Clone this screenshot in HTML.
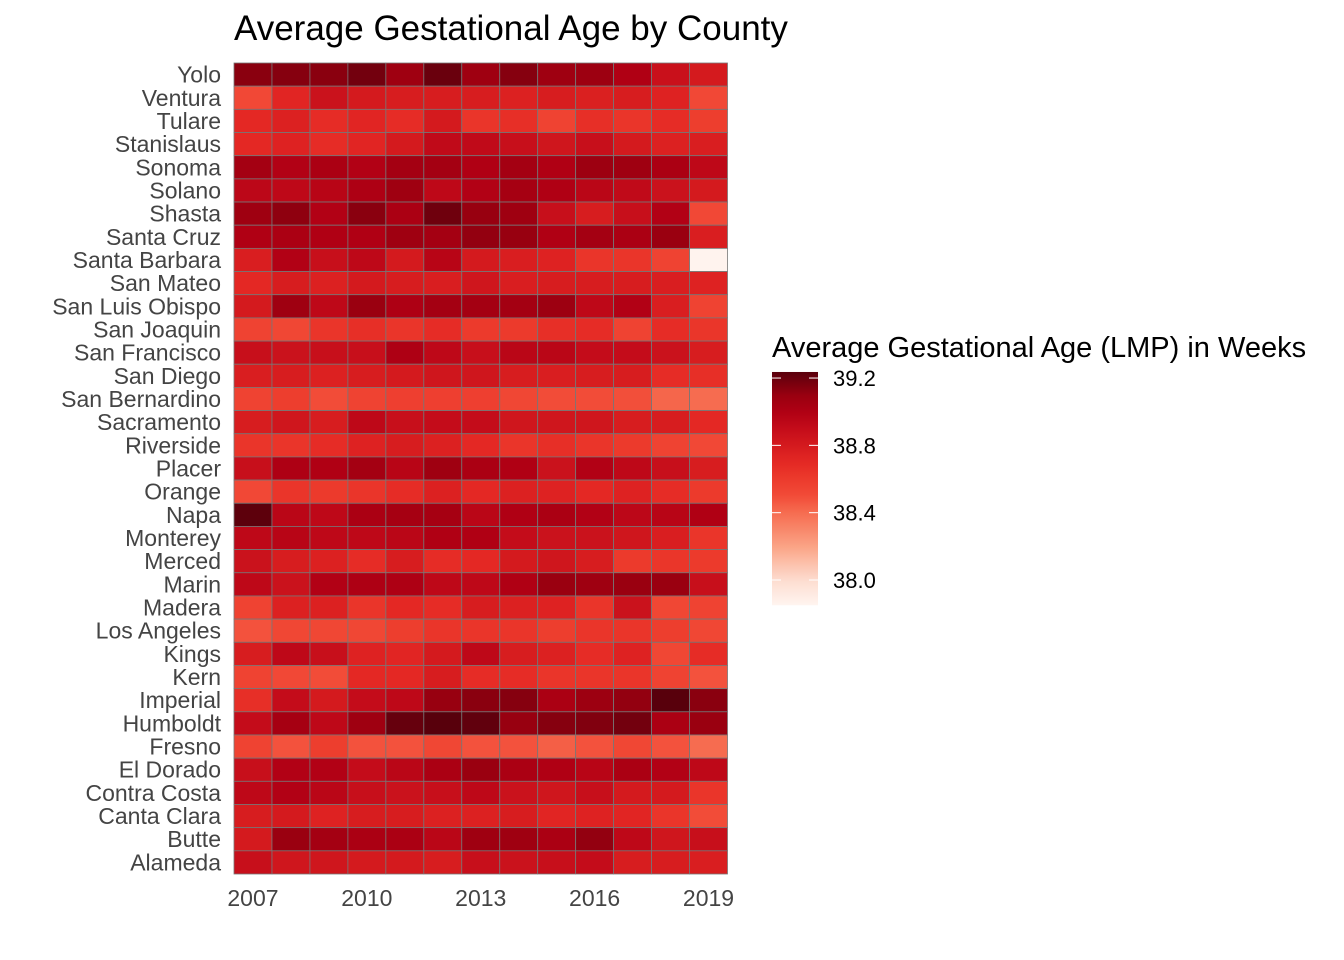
<!DOCTYPE html>
<html><head><meta charset="utf-8"><style>
html,body{margin:0;padding:0;background:#fff;}
svg{display:block;font-family:"Liberation Sans",Arial,sans-serif;}
</style></head><body>
<svg id="chart" width="1344" height="960">
<text x="234" y="40" font-size="35" fill="#000">Average Gestational Age by County</text>
<g id="cells"></g>
<g id="ylabels"></g>
<g id="xlabels"></g>
<g id="legend">
<text x="772" y="357" font-size="29" fill="#000">Average Gestational Age (LMP) in Weeks</text>
</g>
</svg>
<script>
const years = [2007,2008,2009,2010,2011,2012,2013,2014,2015,2016,2017,2018,2019];
const yearTicks = [2007,2010,2013,2016,2019];
const counties = ["Yolo","Ventura","Tulare","Stanislaus","Sonoma","Solano","Shasta","Santa Cruz","Santa Barbara","San Mateo","San Luis Obispo","San Joaquin","San Francisco","San Diego","San Bernardino","Sacramento","Riverside","Placer","Orange","Napa","Monterey","Merced","Marin","Madera","Los Angeles","Kings","Kern","Imperial","Humboldt","Fresno","El Dorado","Contra Costa","Canta Clara","Butte","Alameda"];
const legendTicks = [38.0,38.4,38.8,39.2];
const vYolo=[39.13,39.14,39.13,39.18,39.07,39.2,39.07,39.14,39.07,39.08,39.0,38.87,38.8];
const vVentura=[38.52,38.72,38.86,38.8,38.78,38.78,38.78,38.75,38.78,38.76,38.78,38.74,38.52];
const vTulare=[38.7,38.75,38.68,38.72,38.68,38.8,38.63,38.66,38.55,38.66,38.63,38.68,38.58];
const vStanislaus=[38.7,38.74,38.68,38.72,38.8,38.92,38.92,38.88,38.83,38.88,38.8,38.75,38.77];
const vSonoma=[39.05,38.99,39.02,38.99,39.05,39.05,39.0,39.05,39.0,39.08,39.07,39.02,38.93];
const vSolano=[38.94,38.93,38.96,39.01,39.07,38.93,38.99,39.04,39.0,38.95,38.92,38.86,38.8];
const vShasta=[39.07,39.12,38.99,39.13,39.02,39.19,39.1,39.07,38.88,38.78,38.88,38.99,38.52];
const vSantaCruz=[39.0,39.02,39.0,39.0,39.07,39.05,39.11,39.1,39.0,39.05,39.02,39.09,38.77];
const vSantaBarbara=[38.77,38.99,38.88,38.93,38.8,38.96,38.8,38.77,38.74,38.63,38.63,38.55,37.86];
const vSanMateo=[38.7,38.78,38.75,38.8,38.78,38.77,38.83,38.77,38.78,38.78,38.78,38.77,38.74];
const vSLO=[38.8,39.07,38.93,39.09,39.01,39.05,39.05,39.05,39.08,38.93,38.99,38.77,38.55];
const vSanJoaquin=[38.55,38.53,38.63,38.66,38.63,38.68,38.6,38.6,38.66,38.68,38.55,38.68,38.62];
const vSanFrancisco=[38.88,38.86,38.88,38.88,39.01,38.93,38.88,38.95,38.95,38.9,38.9,38.86,38.78];
const vSanDiego=[38.77,38.78,38.75,38.78,38.8,38.83,38.83,38.78,38.77,38.78,38.78,38.68,38.66];
const vSanBernardino=[38.55,38.58,38.5,38.55,38.57,38.57,38.57,38.53,38.5,38.5,38.49,38.42,38.4];
const vSacramento=[38.78,38.83,38.78,38.93,38.88,38.9,38.9,38.83,38.83,38.83,38.78,38.78,38.7];
const vRiverside=[38.63,38.63,38.68,38.74,38.78,38.75,38.7,38.63,38.66,38.63,38.6,38.55,38.52];
const vPlacer=[38.88,39.01,39.0,39.05,38.96,39.07,39.02,39.0,38.86,38.99,38.93,38.88,38.78];
const vOrange=[38.52,38.63,38.6,38.63,38.68,38.75,38.7,38.75,38.74,38.7,38.74,38.68,38.6];
const vNapa=[39.23,38.95,38.93,39.02,39.04,39.04,38.95,39.0,39.02,38.99,38.94,38.96,39.0];
const vMonterey=[38.93,38.96,38.93,38.93,38.95,39.0,39.0,38.9,38.86,38.86,38.83,38.77,38.63];
const vMerced=[38.86,38.78,38.75,38.68,38.78,38.68,38.7,38.8,38.83,38.78,38.6,38.62,38.6];
const vMarin=[38.93,38.86,38.99,39.01,39.01,38.93,38.93,39.0,39.09,39.07,39.09,39.09,38.88];
const vMadera=[38.55,38.75,38.75,38.63,38.7,38.68,38.78,38.75,38.74,38.63,38.86,38.53,38.55];
const vLosAngeles=[38.48,38.53,38.53,38.53,38.58,38.63,38.63,38.63,38.58,38.63,38.63,38.58,38.53];
const vKings=[38.78,38.93,38.88,38.74,38.72,38.8,38.93,38.78,38.75,38.68,38.74,38.53,38.68];
const vKern=[38.55,38.52,38.5,38.7,38.7,38.78,38.68,38.68,38.63,38.63,38.63,38.55,38.48];
const vImperial=[38.66,38.9,38.8,38.9,38.93,39.1,39.13,39.14,39.02,39.08,39.11,39.24,39.13];
const vHumboldt=[38.9,39.04,38.93,39.07,39.21,39.24,39.22,39.1,39.14,39.15,39.18,39.02,39.09];
const vFresno=[38.55,38.48,38.58,38.48,38.48,38.53,38.48,38.48,38.44,38.48,38.53,38.48,38.4];
const vElDorado=[38.88,38.99,38.99,38.9,38.95,39.02,39.09,39.02,39.0,38.96,39.02,38.99,38.93];
const vContraCosta=[38.93,38.99,38.95,38.88,38.86,38.88,38.93,38.86,38.83,38.88,38.8,38.8,38.63];
const vCantaClara=[38.78,38.8,38.74,38.78,38.78,38.75,38.75,38.78,38.72,38.74,38.72,38.63,38.5];
const vButte=[38.8,39.09,39.05,39.02,39.02,38.95,39.07,39.07,39.02,39.11,38.93,38.83,38.88];
const vAlameda=[38.88,38.83,38.83,38.8,38.8,38.78,38.88,38.86,38.88,38.9,38.78,38.78,38.77];
const values=[vYolo,vVentura,vTulare,vStanislaus,vSonoma,vSolano,vShasta,vSantaCruz,vSantaBarbara,vSanMateo,vSLO,vSanJoaquin,vSanFrancisco,vSanDiego,vSanBernardino,vSacramento,vRiverside,vPlacer,vOrange,vNapa,vMonterey,vMerced,vMarin,vMadera,vLosAngeles,vKings,vKern,vImperial,vHumboldt,vFresno,vElDorado,vContraCosta,vCantaClara,vButte,vAlameda];

const stops=[[37.85,"#FFF5F0"],[38.0,"#FDDCCF"],[38.2,"#FBA385"],[38.4,"#F66C50"],[38.5,"#F24C38"],[38.6,"#EC3A2C"],[38.7,"#E42824"],[38.8,"#D41A1E"],[38.9,"#C40C1A"],[39.0,"#B00014"],[39.1,"#980010"],[39.24,"#58000C"]];
function hex(c){return [1,3,5].map(i=>parseInt(c.substr(i,2),16));}
function color(v){
  if(v<=stops[0][0])return stops[0][1];
  for(let i=1;i<stops.length;i++){
    if(v<=stops[i][0]){
      const t=(v-stops[i-1][0])/(stops[i][0]-stops[i-1][0]);
      const a=hex(stops[i-1][1]),b=hex(stops[i][1]);
      return "rgb("+a.map((x,k)=>Math.round(x+(b[k]-x)*t)).join(",")+")";
    }
  }
  return stops[stops.length-1][1];
}
const X0=234,X1=727.5,Y0=63,Y1=874;
const cw=(X1-X0)/years.length, ch=(Y1-Y0)/counties.length;
const xPos=yr=>X0+years.indexOf(yr)*cw;
const yPos=i=>Y0+i*ch;
const NS="http://www.w3.org/2000/svg";
const cells=document.getElementById("cells");
counties.forEach((c,i)=>{
  years.forEach((yr,j)=>{
    const r=document.createElementNS(NS,"rect");
    r.setAttribute("x",xPos(yr));r.setAttribute("y",yPos(i));
    r.setAttribute("width",cw);r.setAttribute("height",ch);
    r.setAttribute("fill",color(values[i][j]));
    r.setAttribute("stroke","#777");r.setAttribute("stroke-width","0.8");
    
    
    cells.appendChild(r);
  });
});
const yl=document.getElementById("ylabels");
counties.forEach((c,i)=>{
  const t=document.createElementNS(NS,"text");
  t.setAttribute("x",221);t.setAttribute("y",yPos(i)+ch/2+8);
  t.setAttribute("text-anchor","end");t.setAttribute("font-size","23");t.setAttribute("fill","#444");
  t.textContent=c;
  
  
  yl.appendChild(t);
});
const xl=document.getElementById("xlabels");
yearTicks.forEach(yr=>{
  const t=document.createElementNS(NS,"text");
  t.setAttribute("x",xPos(yr)+cw/2);t.setAttribute("y",906);
  t.setAttribute("text-anchor","middle");t.setAttribute("font-size","23");t.setAttribute("fill","#444");
  t.textContent=yr;
  
  
  xl.appendChild(t);
});
const lg=document.getElementById("legend");
const LY=v=>580-(v-38.0)*168.3;
const vmin=37.85,vmax=39.236;
const defs=document.createElementNS(NS,"defs");
const grad=document.createElementNS(NS,"linearGradient");
grad.setAttribute("id","lgrad");grad.setAttribute("x1","0");grad.setAttribute("y1","1");grad.setAttribute("x2","0");grad.setAttribute("y2","0");
for(let k=0;k<=40;k++){
  const v=vmin+(vmax-vmin)*k/40;
  const s=document.createElementNS(NS,"stop");
  s.setAttribute("offset",(k/40));s.setAttribute("stop-color",color(v));
  grad.appendChild(s);
}
defs.appendChild(grad);lg.appendChild(defs);
const bar=document.createElementNS(NS,"rect");
bar.setAttribute("x",772);bar.setAttribute("y",LY(vmax));bar.setAttribute("width",46);bar.setAttribute("height",LY(vmin)-LY(vmax));
bar.setAttribute("fill","url(#lgrad)");


lg.appendChild(bar);
legendTicks.forEach(v=>{
  const y=LY(v);
  [[772,781],[809,818]].forEach(p=>{
    const l=document.createElementNS(NS,"line");
    l.setAttribute("x1",p[0]);l.setAttribute("x2",p[1]);l.setAttribute("y1",y);l.setAttribute("y2",y);
    l.setAttribute("stroke","#fff");l.setAttribute("stroke-width","1");
    
    
    lg.appendChild(l);
  });
  const t=document.createElementNS(NS,"text");
  t.setAttribute("x",833);t.setAttribute("y",y+8);t.setAttribute("font-size","22");t.setAttribute("fill","#000");
  t.textContent=v.toFixed(1);
  
  
  lg.appendChild(t);
});
</script>
</body></html>
